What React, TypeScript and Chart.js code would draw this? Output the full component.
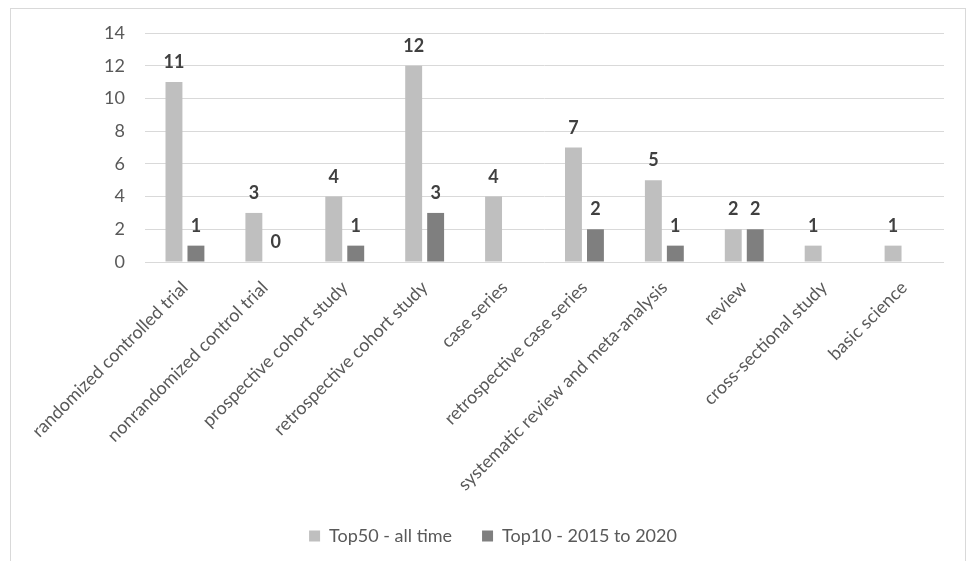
import React, { useEffect, useRef } from "react";
import { Chart, registerables } from "chart.js";

Chart.register(...registerables);

const categories = [
  "randomized controlled trial",
  "nonrandomized control trial",
  "prospective cohort study",
  "retrospective cohort study",
  "case series",
  "retrospective case series",
  "systematic review and meta-analysis",
  "review",
  "cross-sectional study",
  "basic science",
];
const top50AllTime = [11, 3, 4, 12, 4, 7, 5, 2, 1, 1];
const top10Recent = [1, 0, 1, 3, null, 2, 1, 2, null, null];
const seriesNames = ["Top50 - all time", "Top10 - 2015 to 2020"];
const yTicks = [0, 2, 4, 6, 8, 10, 12, 14];

const FONT = "Lato, 'Open Sans', sans-serif";
const TEXT = "#595959";

const valueLabels = {
  id: "valueLabels",
  afterDatasetsDraw(chart: any) {
    const ctx = chart.ctx;
    ctx.save();
    ctx.font = `bold 18px ${FONT}`;
    ctx.fillStyle = "#404040";
    ctx.textAlign = "center";
    ctx.textBaseline = "alphabetic";
    chart.data.datasets.forEach((ds: any, i: number) => {
      const meta = chart.getDatasetMeta(i);
      meta.data.forEach((bar: any, j: number) => {
        const v = ds.data[j];
        if (v === null || v === undefined) return;
        ctx.fillText(String(v), bar.x, bar.y - 14);
      });
    });
    ctx.restore();
  },
};

export default function App() {
  const ref = useRef<HTMLCanvasElement>(null);
  useEffect(() => {
    const chart = new Chart(ref.current!, {
      type: "bar",
      data: {
        labels: categories,
        datasets: [
          {
            label: seriesNames[0],
            data: top50AllTime,
            backgroundColor: "#BFBFBF",
            categoryPercentage: 0.55,
            barPercentage: 0.77,
          },
          {
            label: seriesNames[1],
            data: top10Recent as any,
            backgroundColor: "#7F7F7F",
            categoryPercentage: 0.55,
            barPercentage: 0.77,
          },
        ],
      },
      options: {
        animation: false,
        responsive: false,
        maintainAspectRatio: false,
        layout: { padding: { top: 24, right: 22, left: 31, bottom: 6 } },
        plugins: {
          tooltip: { enabled: false },
          legend: {
            position: "bottom",
            labels: {
              boxWidth: 11,
              boxHeight: 11,
              padding: 30,
              color: TEXT,
              font: { family: FONT, size: 18 },
            },
          },
        },
        scales: {
          x: {
            grid: { display: false, drawTicks: false },
            border: { display: false },
            afterFit: (scale: any) => {
              scale.height = 235;
              scale.paddingLeft = 0;
              scale.paddingRight = 0;
            },
            ticks: {
              autoSkip: false,
              minRotation: 45,
              maxRotation: 45,
              color: TEXT,
              padding: 15,
              font: { family: FONT, size: 18 },
            },
          },
          y: {
            min: 0,
            max: 14,
            afterBuildTicks: (scale: any) => {
              scale.ticks = yTicks.map((v) => ({ value: v }));
            },
            afterFit: (scale: any) => {
              scale.width = 103;
              scale.paddingTop = 0;
              scale.paddingBottom = 0;
            },
            grid: { color: "#D9D9D9", drawTicks: false, lineWidth: 1 },
            border: { display: false },
            ticks: {
              color: TEXT,
              padding: 20,
              font: { family: FONT, size: 18 },
            },
          },
        },
      },
      plugins: [valueLabels],
    });
    return () => chart.destroy();
  }, []);
  return (
    <div style={{ position: "absolute", left: 0, top: 0, width: 968, height: 561, background: "#fff", overflow: "hidden" }}>
      <div
        style={{
          position: "absolute",
          left: 10,
          top: 8,
          width: 956,
          height: 560,
          border: "1px solid #D9D9D9",
          boxSizing: "border-box",
        }}
      />
      <canvas
        ref={ref}
        width={955}
        height={552}
        style={{ position: "absolute", left: 11, top: 9, width: 955, height: 552 }}
      />
    </div>
  );
}
